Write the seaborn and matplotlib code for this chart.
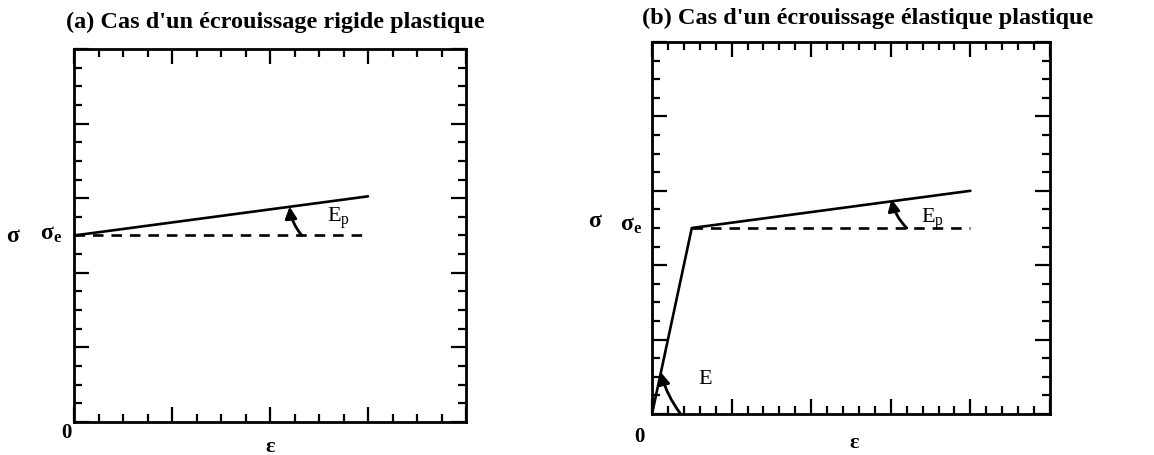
import matplotlib
matplotlib.use("Agg")
import matplotlib.pyplot as plt
from matplotlib.ticker import MultipleLocator
import seaborn as sns
import pandas as pd

sns.set_style("white")
plt.rcParams['font.family'] = ['Liberation Serif', 'DejaVu Serif']
plt.rcParams['text.color'] = 'black'
plt.rcParams['mathtext.fontset'] = 'custom'
plt.rcParams['mathtext.rm'] = 'Liberation Serif'
plt.rcParams['mathtext.it'] = 'Liberation Serif:italic'
plt.rcParams['mathtext.bf'] = 'Liberation Serif:bold'

# ---- data ----
title_a = "(a) Cas d'un écrouissage rigide plastique"
title_b = "(b) Cas d'un écrouissage élastique plastique"

# panel (a): rigid plastic hardening
a_eps = [0, 12]
a_sig = [10, 12.1]
a_dash_eps = [0, 12]
a_dash_sig = [10, 10]

# panel (b): elastic plastic hardening
b_eps = [0, 2.5, 20]
b_sig = [0, 10, 12]
b_dash_eps = [2.5, 20]
b_dash_sig = [10, 10]

a_xlim, a_ylim = (0, 16), (0, 20)
b_xlim, b_ylim = (0, 25), (0, 20)

fig = plt.figure(figsize=(11.54, 4.56), dpi=100)
ax1 = fig.add_axes([74/1154, 1-423/456, 392/1154, 373/456])
ax2 = fig.add_axes([652/1154, 1-415/456, 398/1154, 372/456])

def style(ax, xlim, ylim, xmaj, xmin, ymaj, ymin):
    ax.set_xlim(*xlim)
    ax.set_ylim(*ylim)
    ax.xaxis.set_major_locator(MultipleLocator(xmaj))
    ax.xaxis.set_minor_locator(MultipleLocator(xmin))
    ax.yaxis.set_major_locator(MultipleLocator(ymaj))
    ax.yaxis.set_minor_locator(MultipleLocator(ymin))
    ax.tick_params(which='both', direction='in', top=True, right=True,
                   bottom=True, left=True, labelbottom=False, labelleft=False,
                   color='black', width=1.6)
    ax.tick_params(which='major', length=11)
    ax.tick_params(which='minor', length=6)
    for s in ax.spines.values():
        s.set_linewidth(2.0)
        s.set_color('black')
    ax.set_xlabel('')
    ax.set_ylabel('')

lw = 1.9
da = pd.DataFrame({'eps': a_eps, 'sig': a_sig})
dad = pd.DataFrame({'eps': a_dash_eps, 'sig': a_dash_sig})
sns.lineplot(data=da, x='eps', y='sig', ax=ax1, color='black', lw=lw, sort=False)
sns.lineplot(data=dad, x='eps', y='sig', ax=ax1, color='black', lw=lw,
             linestyle=(0, (4, 3)), sort=False)

db = pd.DataFrame({'eps': b_eps, 'sig': b_sig})
dbd = pd.DataFrame({'eps': b_dash_eps, 'sig': b_dash_sig})
sns.lineplot(data=db, x='eps', y='sig', ax=ax2, color='black', lw=lw, sort=False)
sns.lineplot(data=dbd, x='eps', y='sig', ax=ax2, color='black', lw=lw,
             linestyle=(0, (4, 3)), sort=False)

style(ax1, a_xlim, a_ylim, 4, 1, 4, 1)
style(ax2, b_xlim, b_ylim, 5, 1, 4, 1)

# titles
fig.text(275/1154, 1-22/456, title_a, ha='center', va='center',
         fontsize=17.5, fontweight='bold')
fig.text(868/1154, 1-18/456, title_b, ha='center', va='center',
         fontsize=17.5, fontweight='bold')

arrow_kw = dict(arrowstyle='-|>,head_length=0.7,head_width=0.35', color='black',
                lw=2.0, shrinkA=0, shrinkB=0)

# panel (a) annotations
ax1.annotate('', xy=(8.8, 11.55), xytext=(9.3, 10), arrowprops=dict(
    connectionstyle='arc3,rad=-0.15', **arrow_kw))
ax1.text(10.8, 11.0, r'E$_{\mathrm{p}}$', fontsize=16, ha='center', va='center')
ax1.text(-2.5, 10.0, 'σ', fontsize=17, fontweight='bold', ha='center',
         va='center', clip_on=False)
ax1.text(-0.95, 10.1, r'σ$_{\mathbf{e}}$', fontsize=17, fontweight='bold',
         ha='center', va='center', clip_on=False)
ax1.text(-0.3, -0.55, '0', fontsize=15, fontweight='bold', ha='center',
         va='center', clip_on=False)
ax1.text(8.0, -1.3, 'ε', fontsize=16, fontweight='bold', ha='center',
         va='center', clip_on=False)

# panel (b) annotations
ax2.annotate('', xy=(15.05, 11.55), xytext=(16.0, 10), arrowprops=dict(
    connectionstyle='arc3,rad=-0.15', **arrow_kw))
ax2.text(17.6, 10.5, r'E$_{\mathrm{p}}$', fontsize=16, ha='center', va='center')
ax2.annotate('', xy=(0.55, 2.25), xytext=(1.8, 0), arrowprops=dict(
    connectionstyle='arc3,rad=-0.1', **arrow_kw))
ax2.text(3.35, 1.9, 'E', fontsize=16, ha='center', va='center')
ax2.text(-3.6, 10.4, 'σ', fontsize=17, fontweight='bold', ha='center',
         va='center', clip_on=False)
ax2.text(-1.3, 10.2, r'σ$_{\mathbf{e}}$', fontsize=17, fontweight='bold',
         ha='center', va='center', clip_on=False)
ax2.text(-0.8, -1.2, '0', fontsize=15, fontweight='bold', ha='center',
         va='center', clip_on=False)
ax2.text(12.7, -1.5, 'ε', fontsize=16, fontweight='bold', ha='center',
         va='center', clip_on=False)

fig.savefig('out.png', dpi=100)
